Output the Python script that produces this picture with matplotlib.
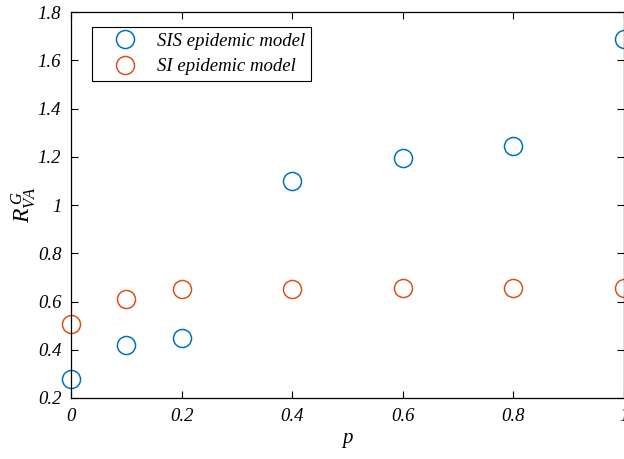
import matplotlib
matplotlib.use("Agg")
import matplotlib.pyplot as plt

p = [0, 0.1, 0.2, 0.4, 0.6, 0.8, 1.0]
sis = [0.28, 0.42, 0.45, 1.10, 1.195, 1.245, 1.69]
si = [0.505, 0.61, 0.652, 0.652, 0.654, 0.654, 0.656]

xticks = [0, 0.2, 0.4, 0.6, 0.8, 1]
xticklabels = ["0", "0.2", "0.4", "0.6", "0.8", "1"]
yticks = [0.2, 0.4, 0.6, 0.8, 1.0, 1.2, 1.4, 1.6, 1.8]
yticklabels = ["0.2", "0.4", "0.6", "0.8", "1", "1.2", "1.4", "1.6", "1.8"]

plt.rcParams["font.family"] = ["Liberation Serif", "DejaVu Serif"]
plt.rcParams["font.style"] = "italic"
plt.rcParams["mathtext.fontset"] = "custom"
plt.rcParams["mathtext.it"] = "Liberation Serif:italic"
plt.rcParams["mathtext.rm"] = "Liberation Serif:italic"

fig = plt.figure(figsize=(6.24, 4.59), dpi=100)
ax = fig.add_axes([0.1138, 0.1329, 0.8862, 0.8409])

ms = 13
ax.plot(p, sis, linestyle="none", marker="o", markersize=ms, markerfacecolor="none",
        markeredgecolor="#0072BD", markeredgewidth=1.1, label="SIS epidemic model",
        clip_on=False)
ax.plot(p, si, linestyle="none", marker="o", markersize=ms, markerfacecolor="none",
        markeredgecolor="#D95319", markeredgewidth=1.1, label="SI epidemic model",
        clip_on=False)

ax.set_xlim(0, 1)
ax.set_ylim(0.2, 1.8)
ax.set_xticks(xticks)
ax.set_xticklabels(xticklabels)
ax.set_yticks(yticks)
ax.set_yticklabels(yticklabels)
ax.tick_params(direction="in", length=5, width=0.8, labelsize=13.5,
               top=True, right=True, pad=7)
for s in ax.spines.values():
    s.set_linewidth(0.9)

ax.set_xlabel("p", fontsize=15, labelpad=3)
ax.set_ylabel(r"$R_{VA}^{\,G}$", fontsize=17, labelpad=0)

leg = ax.legend(loc="upper left", bbox_to_anchor=(0.038, 0.961), borderaxespad=0,
                fontsize=13.5, frameon=True, fancybox=False, edgecolor="black",
                framealpha=1, handletextpad=0.25, borderpad=0.3, labelspacing=0.45,
                handlelength=2.9)
leg.get_frame().set_linewidth(0.8)

fig.savefig("out.png", dpi=100)
